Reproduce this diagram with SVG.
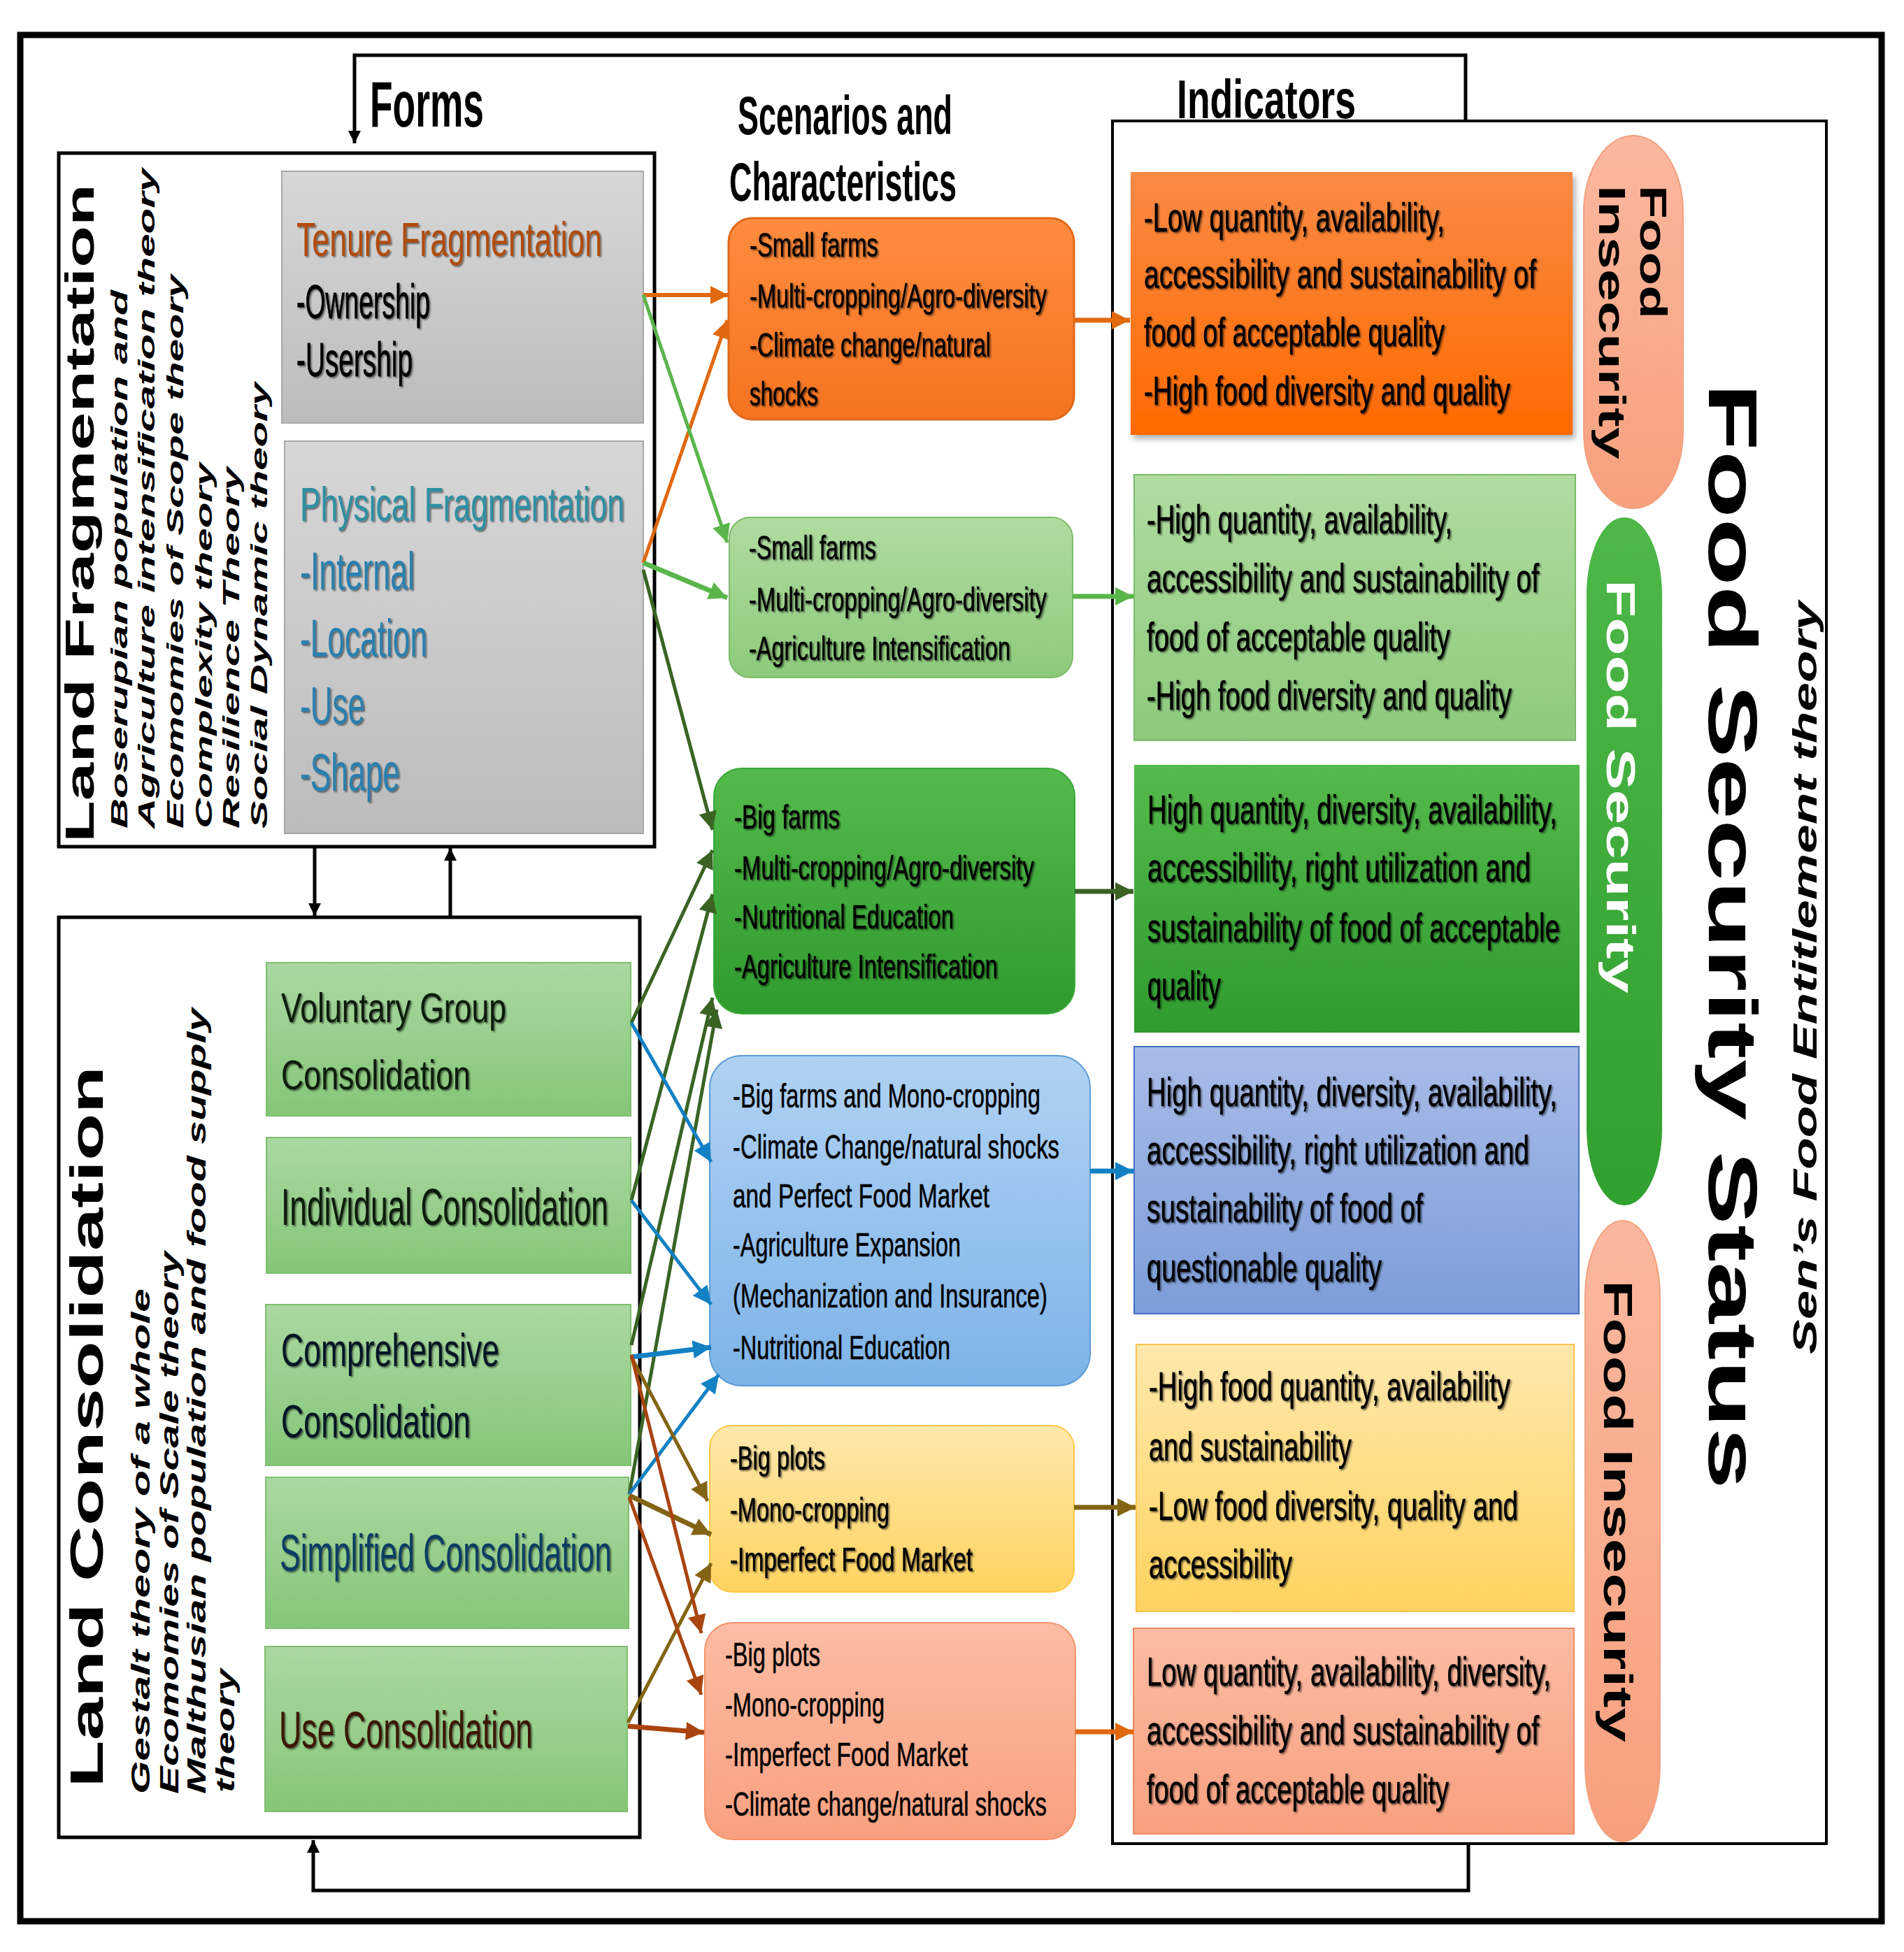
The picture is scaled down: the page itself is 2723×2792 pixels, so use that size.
<svg xmlns="http://www.w3.org/2000/svg" width="2723" height="2792" viewBox="0 0 2723 2792">
<defs>
<style>
.n{font-family:"Liberation Sans Narrow","Liberation Sans",Arial,sans-serif;}
.w{font-family:"Liberation Sans",Arial,sans-serif;font-weight:bold;}
.ti{font-weight:bold;fill:#000;}
.sc{font-size:49px;fill:#000;stroke:#000;stroke-width:0.6px;}
.in{font-size:57px;fill:#000;stroke:#000;stroke-width:0.6px;}
.th{font-style:italic;}
.ln{fill:none;}
.frame{fill:#fff;stroke:#000;stroke-width:5;}
</style>
<linearGradient id="gGray" x1="0" y1="0" x2="0" y2="1"><stop offset="0" stop-color="#D7D7D7"/><stop offset="1" stop-color="#BCBCBC"/></linearGradient>
<linearGradient id="gOr" x1="0" y1="0" x2="0" y2="1"><stop offset="0" stop-color="#FF8C3F"/><stop offset="1" stop-color="#F5731F"/></linearGradient>
<linearGradient id="gLG" x1="0" y1="0" x2="0" y2="1"><stop offset="0" stop-color="#B0DCA0"/><stop offset="1" stop-color="#8CCA7B"/></linearGradient>
<linearGradient id="gDG" x1="0" y1="0" x2="0" y2="1"><stop offset="0" stop-color="#55BA4C"/><stop offset="1" stop-color="#2F9B2E"/></linearGradient>
<linearGradient id="gBl" x1="0" y1="0" x2="0" y2="1"><stop offset="0" stop-color="#B0D2F3"/><stop offset="1" stop-color="#7DB3E8"/></linearGradient>
<linearGradient id="gYe" x1="0" y1="0" x2="0" y2="1"><stop offset="0" stop-color="#FFE8AC"/><stop offset="1" stop-color="#FFD35F"/></linearGradient>
<linearGradient id="gSa" x1="0" y1="0" x2="0" y2="1"><stop offset="0" stop-color="#FCBCA3"/><stop offset="1" stop-color="#F8A080"/></linearGradient>
<linearGradient id="gI1" x1="0" y1="0" x2="0" y2="1"><stop offset="0" stop-color="#F98A45"/><stop offset="1" stop-color="#FF6A00"/></linearGradient>
<linearGradient id="gI4" x1="0" y1="0" x2="0" y2="1"><stop offset="0" stop-color="#A9BCE8"/><stop offset="1" stop-color="#7C9DD9"/></linearGradient>
<linearGradient id="gCG" x1="0" y1="0" x2="0" y2="1"><stop offset="0" stop-color="#AAD8A1"/><stop offset="1" stop-color="#85C678"/></linearGradient>
<linearGradient id="gPS" x1="0" y1="0" x2="0" y2="1"><stop offset="0" stop-color="#FBB89E"/><stop offset="1" stop-color="#F7A07E"/></linearGradient>
<linearGradient id="gPG" x1="0" y1="0" x2="0" y2="1"><stop offset="0" stop-color="#4DB847"/><stop offset="1" stop-color="#30A02F"/></linearGradient>
<filter id="bs" x="-5%" y="-5%" width="115%" height="120%"><feDropShadow dx="4" dy="6" stdDeviation="4" flood-color="#000" flood-opacity="0.3"/></filter>
<filter id="ts" x="-5%" y="-20%" width="115%" height="150%"><feDropShadow dx="2" dy="2" stdDeviation="1.3" flood-color="#000" flood-opacity="0.5"/></filter>
<marker id="mK" viewBox="0 0 10 10" refX="10" refY="5" markerWidth="18" markerHeight="18" markerUnits="userSpaceOnUse" orient="auto"><path d="M0,0 L10,5 L0,10 z" fill="#000"/></marker>
<marker id="mO" viewBox="0 0 10 10" refX="10" refY="5" markerWidth="28" markerHeight="26" markerUnits="userSpaceOnUse" orient="auto"><path d="M0,0 L10,5 L0,10 z" fill="#E0680E"/></marker>
<marker id="mL" viewBox="0 0 10 10" refX="10" refY="5" markerWidth="28" markerHeight="26" markerUnits="userSpaceOnUse" orient="auto"><path d="M0,0 L10,5 L0,10 z" fill="#5AB54B"/></marker>
<marker id="mD" viewBox="0 0 10 10" refX="10" refY="5" markerWidth="28" markerHeight="26" markerUnits="userSpaceOnUse" orient="auto"><path d="M0,0 L10,5 L0,10 z" fill="#3A6324"/></marker>
<marker id="mB" viewBox="0 0 10 10" refX="10" refY="5" markerWidth="28" markerHeight="26" markerUnits="userSpaceOnUse" orient="auto"><path d="M0,0 L10,5 L0,10 z" fill="#1380C3"/></marker>
<marker id="mV" viewBox="0 0 10 10" refX="10" refY="5" markerWidth="28" markerHeight="26" markerUnits="userSpaceOnUse" orient="auto"><path d="M0,0 L10,5 L0,10 z" fill="#836414"/></marker>
<marker id="mR" viewBox="0 0 10 10" refX="10" refY="5" markerWidth="28" markerHeight="26" markerUnits="userSpaceOnUse" orient="auto"><path d="M0,0 L10,5 L0,10 z" fill="#A9440F"/></marker>
</defs>

<rect x="0" y="0" width="2723" height="2792" fill="#fff"/>
<rect x="29" y="50" width="2662" height="2698" fill="none" stroke="#000" stroke-width="9"/>

<g id="titles" class="n ti">
<text x="529" y="181" font-size="92" textLength="163" lengthAdjust="spacingAndGlyphs">Forms</text>
<text x="1055" y="192" font-size="78" textLength="307" lengthAdjust="spacingAndGlyphs">Scenarios and</text>
<text x="1043" y="287" font-size="78" textLength="325" lengthAdjust="spacingAndGlyphs">Characteristics</text>
<text x="1683" y="169" font-size="78" textLength="256" lengthAdjust="spacingAndGlyphs">Indicators</text>
</g>

<g id="land-fragmentation">
<rect class="frame" x="84" y="219" width="852" height="992"/>
<text class="w" transform="translate(134,1205) rotate(-90)" font-size="58" textLength="942" lengthAdjust="spacingAndGlyphs">Land Fragmentation</text>
<g class="w th" font-size="33">
<text transform="translate(182,1185) rotate(-90)" textLength="770" lengthAdjust="spacingAndGlyphs">Boserupian population and</text>
<text transform="translate(221,1185) rotate(-90)" textLength="944" lengthAdjust="spacingAndGlyphs">Agriculture intensification theory</text>
<text transform="translate(262,1185) rotate(-90)" textLength="792" lengthAdjust="spacingAndGlyphs">Ecomomies of Scope theory</text>
<text transform="translate(303,1185) rotate(-90)" textLength="523" lengthAdjust="spacingAndGlyphs">Complexity theory</text>
<text transform="translate(342,1185) rotate(-90)" textLength="517" lengthAdjust="spacingAndGlyphs">Resilience Theory</text>
<text transform="translate(382,1185) rotate(-90)" textLength="638" lengthAdjust="spacingAndGlyphs">Social Dynamic theory</text>
</g>
</g>

<g id="tenure-fragmentation">
<rect x="403" y="245" width="517" height="360" fill="url(#gGray)" stroke="#A8A8A8" stroke-width="2"/>
<g class="n" filter="url(#ts)">
<text x="424" y="366" font-size="68" fill="#B04C0E" textLength="437" lengthAdjust="spacingAndGlyphs">Tenure Fragmentation</text>
<text x="424" y="455" font-size="68" fill="#000" stroke="#000" stroke-width="0.8" textLength="191" lengthAdjust="spacingAndGlyphs">-Ownership</text>
<text x="424" y="538" font-size="68" fill="#000" stroke="#000" stroke-width="0.8" textLength="166" lengthAdjust="spacingAndGlyphs">-Usership</text>
</g>
</g>

<g id="physical-fragmentation">
<rect x="407" y="631" width="513" height="561" fill="url(#gGray)" stroke="#A8A8A8" stroke-width="2"/>
<g class="n" filter="url(#ts)">
<text x="429" y="745" font-size="68" fill="#2E8FA3" textLength="464" lengthAdjust="spacingAndGlyphs">Physical Fragmentation</text>
<text x="429" y="843" font-size="76" fill="#2A7FAE" textLength="164" lengthAdjust="spacingAndGlyphs">-Internal</text>
<text x="429" y="939" font-size="76" fill="#2A7FAE" textLength="182" lengthAdjust="spacingAndGlyphs">-Location</text>
<text x="429" y="1035" font-size="76" fill="#2A7FAE" textLength="93" lengthAdjust="spacingAndGlyphs">-Use</text>
<text x="429" y="1131" font-size="76" fill="#2A7FAE" textLength="143" lengthAdjust="spacingAndGlyphs">-Shape</text>
</g>
</g>

<g id="land-consolidation">
<rect class="frame" x="84" y="1312" width="831" height="1316"/>
<text class="w" transform="translate(147,2557) rotate(-90)" font-size="67" textLength="1032" lengthAdjust="spacingAndGlyphs">Land Consolidation</text>
<g class="w th" font-size="36">
<text transform="translate(214,2566) rotate(-90)" textLength="723" lengthAdjust="spacingAndGlyphs">Gestalt theory of a whole</text>
<text transform="translate(255,2566) rotate(-90)" textLength="776" lengthAdjust="spacingAndGlyphs">Ecomomies of Scale theory</text>
<text transform="translate(294,2566) rotate(-90)" textLength="1124" lengthAdjust="spacingAndGlyphs">Malthusian population and food supply</text>
<text transform="translate(335,2564) rotate(-90)" textLength="177" lengthAdjust="spacingAndGlyphs">theory</text>
</g>
</g>

<g id="voluntary-group-consolidation">
<rect x="381" y="1377" width="521" height="219" fill="url(#gCG)" stroke="#7FBF70" stroke-width="2"/>
<g class="n" fill="#0A1A0A" filter="url(#ts)">
<text x="402" y="1462" font-size="60" textLength="322" lengthAdjust="spacingAndGlyphs">Voluntary Group</text>
<text x="402" y="1558" font-size="60" textLength="271" lengthAdjust="spacingAndGlyphs">Consolidation</text>
</g>
</g>
<g id="individual-consolidation">
<rect x="381" y="1627" width="521" height="194" fill="url(#gCG)" stroke="#7FBF70" stroke-width="2"/>
<text class="n" x="402" y="1752" font-size="74" fill="#0A1A0A" filter="url(#ts)" textLength="468" lengthAdjust="spacingAndGlyphs">Individual Consolidation</text>
</g>
<g id="comprehensive-consolidation">
<rect x="380" y="1866" width="522" height="230" fill="url(#gCG)" stroke="#7FBF70" stroke-width="2"/>
<g class="n" fill="#061426" filter="url(#ts)">
<text x="402" y="1954" font-size="67" textLength="312" lengthAdjust="spacingAndGlyphs">Comprehensive</text>
<text x="402" y="2056" font-size="67" textLength="271" lengthAdjust="spacingAndGlyphs">Consolidation</text>
</g>
</g>
<g id="simplified-consolidation">
<rect x="380" y="2113" width="519" height="216" fill="url(#gCG)" stroke="#7FBF70" stroke-width="2"/>
<text class="n" x="400" y="2247" font-size="74" fill="#0C3D63" filter="url(#ts)" textLength="475" lengthAdjust="spacingAndGlyphs">Simplified Consolidation</text>
</g>
<g id="use-consolidation">
<rect x="379" y="2355" width="518" height="236" fill="url(#gCG)" stroke="#7FBF70" stroke-width="2"/>
<text class="n" x="399" y="2500" font-size="74" fill="#3A1800" filter="url(#ts)" textLength="363" lengthAdjust="spacingAndGlyphs">Use Consolidation</text>
</g>

<g id="scenario-1">
<rect x="1042" y="312" width="494" height="288" rx="34" fill="url(#gOr)" stroke="#E0691A" stroke-width="3"/>
<g class="n sc" filter="url(#ts)">
<text x="1072" y="367" textLength="184" lengthAdjust="spacingAndGlyphs">-Small farms</text>
<text x="1072" y="440" textLength="425" lengthAdjust="spacingAndGlyphs">-Multi-cropping/Agro-diversity</text>
<text x="1072" y="510" textLength="345" lengthAdjust="spacingAndGlyphs">-Climate change/natural</text>
<text x="1072" y="580" textLength="98" lengthAdjust="spacingAndGlyphs">shocks</text>
</g>
</g>
<g id="scenario-2">
<rect x="1043" y="740" width="491" height="229" rx="30" fill="url(#gLG)" stroke="#7DBB6A" stroke-width="2"/>
<g class="n sc" filter="url(#ts)">
<text x="1071" y="800" textLength="182" lengthAdjust="spacingAndGlyphs">-Small farms</text>
<text x="1071" y="874" textLength="426" lengthAdjust="spacingAndGlyphs">-Multi-cropping/Agro-diversity</text>
<text x="1071" y="944" textLength="374" lengthAdjust="spacingAndGlyphs">-Agriculture Intensification</text>
</g>
</g>
<g id="scenario-3">
<rect x="1021" y="1099" width="516" height="351" rx="40" fill="url(#gDG)" stroke="#3AA83A" stroke-width="2"/>
<g class="n sc" filter="url(#ts)">
<text x="1050" y="1185" textLength="151" lengthAdjust="spacingAndGlyphs">-Big farms</text>
<text x="1050" y="1258" textLength="429" lengthAdjust="spacingAndGlyphs">-Multi-cropping/Agro-diversity</text>
<text x="1050" y="1328" textLength="314" lengthAdjust="spacingAndGlyphs">-Nutritional Education</text>
<text x="1050" y="1399" textLength="377" lengthAdjust="spacingAndGlyphs">-Agriculture Intensification</text>
</g>
</g>
<g id="scenario-4">
<rect x="1015" y="1510" width="544" height="472" rx="46" fill="url(#gBl)" stroke="#5B9BD5" stroke-width="2"/>
<g class="n sc">
<text x="1048" y="1584" textLength="440" lengthAdjust="spacingAndGlyphs">-Big farms and Mono-cropping</text>
<text x="1048" y="1657" textLength="467" lengthAdjust="spacingAndGlyphs">-Climate Change/natural shocks</text>
<text x="1048" y="1727" textLength="367" lengthAdjust="spacingAndGlyphs">and Perfect Food Market</text>
<text x="1048" y="1797" textLength="326" lengthAdjust="spacingAndGlyphs">-Agriculture Expansion</text>
<text x="1048" y="1870" textLength="450" lengthAdjust="spacingAndGlyphs">(Mechanization and Insurance)</text>
<text x="1048" y="1944" textLength="311" lengthAdjust="spacingAndGlyphs">-Nutritional Education</text>
</g>
</g>
<g id="scenario-5">
<rect x="1015" y="2039" width="521" height="238" rx="32" fill="url(#gYe)" stroke="#FFC84A" stroke-width="2"/>
<g class="n sc" filter="url(#ts)">
<text x="1044" y="2102" textLength="136" lengthAdjust="spacingAndGlyphs">-Big plots</text>
<text x="1044" y="2176" textLength="228" lengthAdjust="spacingAndGlyphs">-Mono-cropping</text>
<text x="1044" y="2247" textLength="347" lengthAdjust="spacingAndGlyphs">-Imperfect Food Market</text>
</g>
</g>
<g id="scenario-6">
<rect x="1008" y="2321" width="530" height="310" rx="40" fill="url(#gSa)" stroke="#F4936A" stroke-width="2"/>
<g class="n sc">
<text x="1037" y="2383" textLength="136" lengthAdjust="spacingAndGlyphs">-Big plots</text>
<text x="1037" y="2455" textLength="228" lengthAdjust="spacingAndGlyphs">-Mono-cropping</text>
<text x="1037" y="2526" textLength="347" lengthAdjust="spacingAndGlyphs">-Imperfect Food Market</text>
<text x="1037" y="2597" textLength="460" lengthAdjust="spacingAndGlyphs">-Climate change/natural shocks</text>
</g>
</g>

<g id="food-security-status">
<rect x="1591" y="173" width="1021" height="2464" fill="#fff" stroke="#000" stroke-width="4"/>
<text class="w" transform="translate(2444,548) rotate(90)" font-size="99" font-weight="900" textLength="1582" lengthAdjust="spacingAndGlyphs">Food Security Status</text>
<text class="w th" transform="translate(2598,1937) rotate(-90)" font-size="48" textLength="1077" lengthAdjust="spacingAndGlyphs">Sen’s Food Entitlement theory</text>
</g>

<g id="indicator-1">
<rect x="1617" y="246" width="632" height="376" fill="url(#gI1)" filter="url(#bs)"/>
<g class="n in" filter="url(#ts)">
<text x="1636" y="331" textLength="430" lengthAdjust="spacingAndGlyphs">-Low quantity, availability,</text>
<text x="1636" y="412" textLength="561" lengthAdjust="spacingAndGlyphs">accessibility and sustainability of</text>
<text x="1636" y="495" textLength="430" lengthAdjust="spacingAndGlyphs">food of acceptable quality</text>
<text x="1636" y="579" textLength="524" lengthAdjust="spacingAndGlyphs">-High food diversity and quality</text>
</g>
</g>
<g id="indicator-2">
<rect x="1622" y="679" width="631" height="380" fill="url(#gLG)" stroke="#7DBB6A" stroke-width="2"/>
<g class="n in" filter="url(#ts)">
<text x="1640" y="763" textLength="437" lengthAdjust="spacingAndGlyphs">-High quantity, availability,</text>
<text x="1640" y="847" textLength="561" lengthAdjust="spacingAndGlyphs">accessibility and sustainability of</text>
<text x="1640" y="931" textLength="434" lengthAdjust="spacingAndGlyphs">food of acceptable quality</text>
<text x="1640" y="1015" textLength="522" lengthAdjust="spacingAndGlyphs">-High food diversity and quality</text>
</g>
</g>
<g id="indicator-3">
<rect x="1622" y="1094" width="637" height="383" fill="url(#gDG)"/>
<g class="n in" filter="url(#ts)">
<text x="1641" y="1178" textLength="586" lengthAdjust="spacingAndGlyphs">High quantity, diversity, availability,</text>
<text x="1641" y="1261" textLength="548" lengthAdjust="spacingAndGlyphs">accessibility, right utilization and</text>
<text x="1641" y="1347" textLength="590" lengthAdjust="spacingAndGlyphs">sustainability of food of acceptable</text>
<text x="1641" y="1430" textLength="105" lengthAdjust="spacingAndGlyphs">quality</text>
</g>
</g>
<g id="indicator-4">
<rect x="1622" y="1497" width="636" height="382" fill="url(#gI4)" stroke="#4472C4" stroke-width="2"/>
<g class="n in" filter="url(#ts)">
<text x="1640" y="1582" textLength="587" lengthAdjust="spacingAndGlyphs">High quantity, diversity, availability,</text>
<text x="1640" y="1665" textLength="547" lengthAdjust="spacingAndGlyphs">accessibility, right utilization and</text>
<text x="1640" y="1748" textLength="395" lengthAdjust="spacingAndGlyphs">sustainability of food of</text>
<text x="1640" y="1833" textLength="336" lengthAdjust="spacingAndGlyphs">questionable quality</text>
</g>
</g>
<g id="indicator-5">
<rect x="1625" y="1923" width="626" height="382" fill="url(#gYe)" stroke="#F6C54F" stroke-width="2"/>
<g class="n in" filter="url(#ts)">
<text x="1643" y="2003" textLength="517" lengthAdjust="spacingAndGlyphs">-High food quantity, availability</text>
<text x="1643" y="2089" textLength="290" lengthAdjust="spacingAndGlyphs">and sustainability</text>
<text x="1643" y="2174" textLength="528" lengthAdjust="spacingAndGlyphs">-Low food diversity, quality and</text>
<text x="1643" y="2257" textLength="205" lengthAdjust="spacingAndGlyphs">accessibility</text>
</g>
</g>
<g id="indicator-6">
<rect x="1621" y="2329" width="630" height="294" fill="url(#gSa)" stroke="#F08A62" stroke-width="2"/>
<g class="n in" filter="url(#ts)">
<text x="1640" y="2411" textLength="578" lengthAdjust="spacingAndGlyphs">Low quantity, availability, diversity,</text>
<text x="1640" y="2495" textLength="561" lengthAdjust="spacingAndGlyphs">accessibility and sustainability of</text>
<text x="1640" y="2579" textLength="432" lengthAdjust="spacingAndGlyphs">food of acceptable quality</text>
</g>
</g>

<g id="pill-food-insecurity-top">
<rect x="2265" y="194" width="142" height="533" rx="71" ry="110" fill="url(#gPS)" stroke="#F4A07F" stroke-width="2"/>
<text class="w" transform="translate(2346,265) rotate(90)" font-size="53" fill="#000" textLength="191" lengthAdjust="spacingAndGlyphs">Food</text>
<text class="w" transform="translate(2287,265) rotate(90)" font-size="53" fill="#000" textLength="392" lengthAdjust="spacingAndGlyphs">Insecurity</text>
</g>
<g id="pill-food-security">
<rect x="2269" y="740" width="108" height="984" rx="54" ry="110" fill="url(#gPG)"/>
<text class="w" transform="translate(2298,829) rotate(90)" font-size="57" fill="#fff" textLength="592" lengthAdjust="spacingAndGlyphs">Food Security</text>
</g>
<g id="pill-food-insecurity-bottom">
<rect x="2267" y="1746" width="107" height="888" rx="53" ry="110" fill="url(#gPS)" stroke="#F4A07F" stroke-width="2"/>
<text class="w" transform="translate(2294,1831) rotate(90)" font-size="57" fill="#000" textLength="661" lengthAdjust="spacingAndGlyphs">Food Insecurity</text>
</g>

<g id="connectors" class="ln">
<g stroke="#000" stroke-width="5" fill="none">
<path d="M2096,173 L2096,79 L507,79 L507,205" marker-end="url(#mK)"/>
<path d="M2100,2637 L2100,2704 L448,2704 L448,2632" marker-end="url(#mK)"/>
<path d="M450,1211 L450,1310" marker-end="url(#mK)"/>
<path d="M644,1312 L644,1213" marker-end="url(#mK)"/>
</g>
<g stroke="#E0680E" stroke-width="5" fill="none" marker-end="url(#mO)">
<path d="M920,422 L1042,422" stroke-width="6"/>
<path d="M920,805 L1040,458"/>
<path d="M1536,458 L1616,458" stroke-width="7"/>
<path d="M1538,2477 L1621,2477" stroke-width="7"/>
</g>
<g stroke="#5AB54B" stroke-width="5" fill="none" marker-end="url(#mL)">
<path d="M920,422 L1040,776"/>
<path d="M920,805 L1040,855" stroke-width="7"/>
<path d="M1534,853 L1621,853" stroke-width="7"/>
</g>
<g stroke="#3A6324" stroke-width="5" fill="none" marker-end="url(#mD)">
<path d="M920,815 L1019,1187"/>
<path d="M903,1463 L1019,1216"/>
<path d="M903,1717 L1019,1279"/>
<path d="M903,1924 L1019,1427"/>
<path d="M900,2137 L1025,1444"/>
<path d="M1537,1275 L1621,1275" stroke-width="7"/>
</g>
<g stroke="#1380C3" stroke-width="5" fill="none" marker-end="url(#mB)">
<path d="M903,1463 L1017,1662"/>
<path d="M903,1717 L1017,1866"/>
<path d="M903,1941 L1017,1927" stroke-width="7"/>
<path d="M900,2137 L1028,1966"/>
<path d="M1559,1675 L1621,1675" stroke-width="7"/>
</g>
<g stroke="#836414" stroke-width="5" fill="none" marker-end="url(#mV)">
<path d="M903,1941 L1012,2147"/>
<path d="M900,2139 L1017,2195" stroke-width="7"/>
<path d="M898,2464 L1017,2236"/>
<path d="M1536,2156 L1624,2156" stroke-width="7"/>
</g>
<g stroke="#A9440F" stroke-width="5" fill="none" marker-end="url(#mR)">
<path d="M903,1938 L1003,2336"/>
<path d="M900,2142 L1003,2424"/>
<path d="M898,2469 L1007,2478" stroke-width="7"/>
</g>
</g>
</svg>
